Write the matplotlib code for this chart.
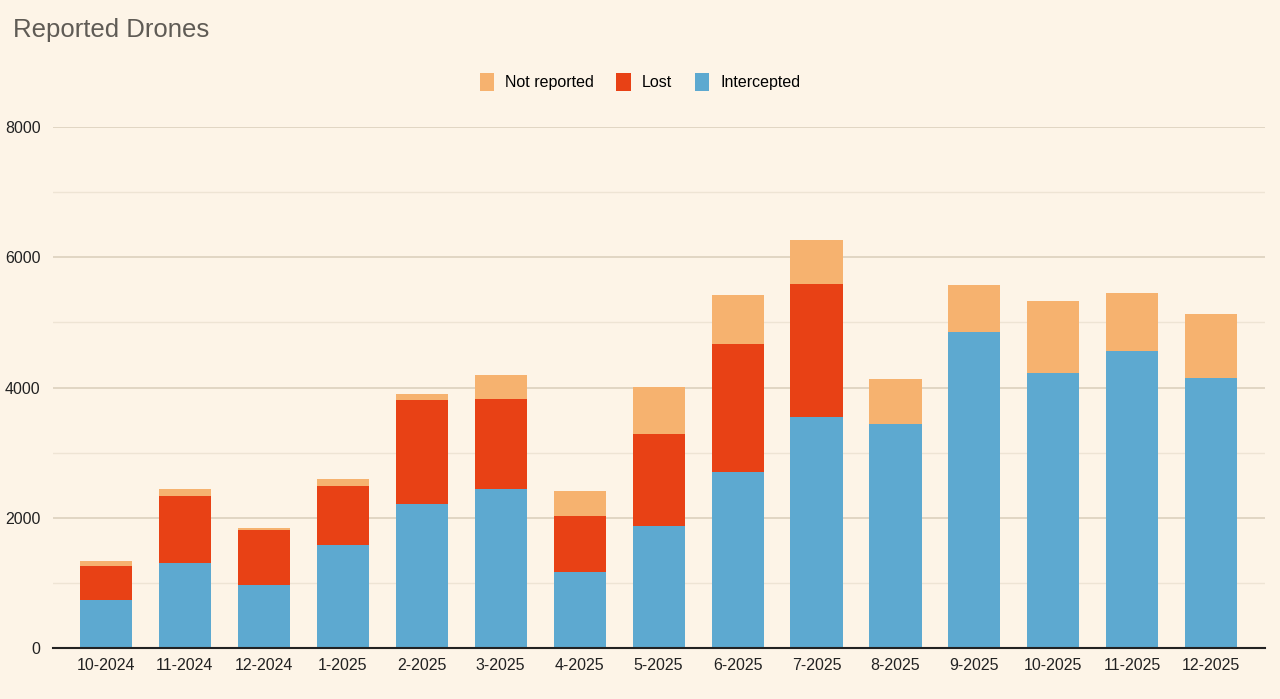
import matplotlib.pyplot as plt
import numpy as np

# monthly reported drones
months = ['10-2024', '11-2024', '12-2024', '1-2025', '2-2025', '3-2025', '4-2025', '5-2025',
          '6-2025', '7-2025', '8-2025', '9-2025', '10-2025', '11-2025', '12-2025']
intercepted = [740, 1306, 968, 1582, 2212, 2442, 1167, 1874, 2703, 3548, 3441, 4854, 4224, 4562, 4147]
lost = [520, 1029, 844, 906, 1597, 1382, 861, 1413, 1966, 2043, 0, 0, 0, 0, 0]
not_reported = [76, 107, 31, 108, 92, 369, 384, 722, 753, 676, 691, 722, 1106, 891, 983]

bg = '#FDF4E7'
c_int = '#5DA9D0'
c_lost = '#E84115'
c_nr = '#F6B26F'

plt.rcParams['font.family'] = ['Liberation Sans', 'DejaVu Sans']

fig = plt.figure(figsize=(12.8, 6.99), dpi=100, facecolor=bg)
ax = fig.add_axes([53 / 1280, 1 - 648 / 699, (1265 - 53) / 1280, (648 - 127) / 699])
ax.set_facecolor(bg)

x = np.arange(len(months))
w = 0.66
lost_bottom = np.array(intercepted)
nr_bottom = lost_bottom + np.array(lost)

ax.bar(x, intercepted, width=w, color=c_int, label='Intercepted', zorder=3)
ax.bar(x, lost, width=w, bottom=lost_bottom, color=c_lost, label='Lost', zorder=3)
ax.bar(x, not_reported, width=w, bottom=nr_bottom, color=c_nr, label='Not reported', zorder=3)

ax.set_xlim(-0.67, len(months) - 1 + 0.68)
ax.set_ylim(0, 8000)
ax.set_yticks(range(0, 8001, 2000))
ax.set_yticks(range(1000, 8000, 2000), minor=True)
ax.grid(axis='y', which='major', color='#DCD1BE', linewidth=1.2, zorder=0)
ax.grid(axis='y', which='minor', color='#EEE4D4', linewidth=1.0, zorder=0)
ax.set_xticks(x, months)
ax.tick_params(axis='both', which='both', length=0, labelsize=11.5, colors='#222222')
ax.tick_params(axis='y', pad=9)
ax.tick_params(axis='x', pad=7)
for s in ['top', 'right', 'left']:
    ax.spines[s].set_visible(False)
ax.spines['bottom'].set_color('#222222')
ax.spines['bottom'].set_linewidth(1.5)
ax.spines['bottom'].set_zorder(4)

handles, labels = ax.get_legend_handles_labels()
fig.legend(handles[::-1], labels[::-1], loc='center', bbox_to_anchor=(0.5, 1 - 82 / 699), ncol=3,
           frameon=False, fontsize=11.5, handlelength=0.9, handleheight=1.3, handletextpad=0.7,
           columnspacing=1.4)

fig.text(13 / 1280, 1 - 30 / 699, 'Reported Drones', fontsize=18.5, color='#5F5B55', va='center', ha='left')

fig.savefig('out.png', dpi=100, facecolor=bg)
